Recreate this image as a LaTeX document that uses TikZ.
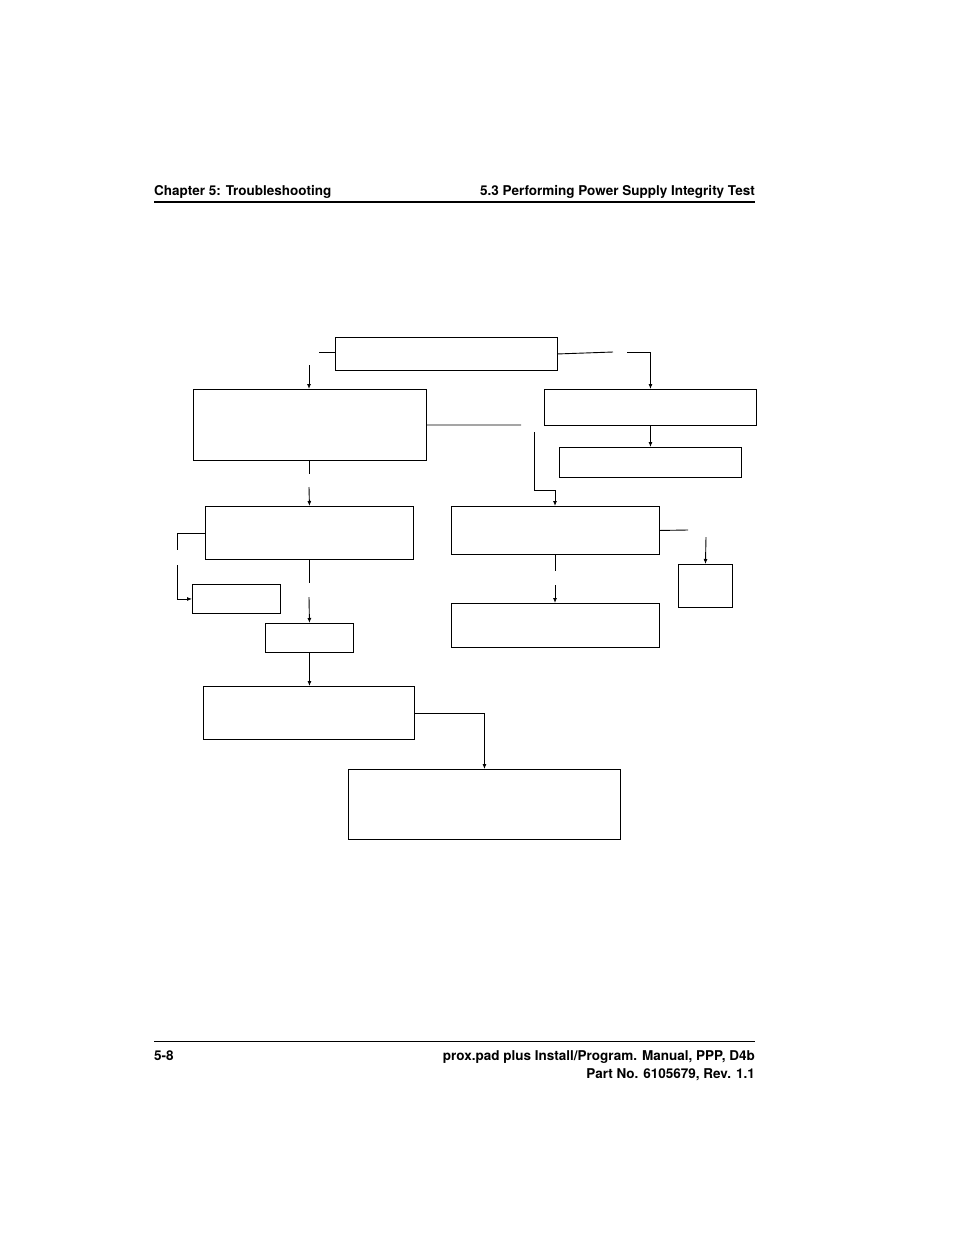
\documentclass[tikz,border=0pt]{standalone}
\usepackage{fontspec}
\setmainfont{TeX Gyre Heros}
\usetikzlibrary{calc,arrows.meta}
\tikzset{
  box/.style={rectangle,draw,line width=0.9pt,anchor=north west,inner sep=0pt},
  link/.style={line width=0.9pt},
  arr/.style={line width=0.9pt,-{Latex[length=5pt,width=4pt]}},
  hdr/.style={font=\fontsize{13.5}{16}\selectfont\bfseries,inner sep=0pt}
}
\newcommand{\flowbox}[5]{\node[box,minimum width=#4pt,minimum height=#5pt] (#1) at (#2,#3) {};}

\begin{document}
\begin{tikzpicture}[x=1pt,y=-1pt]
            \useasboundingbox (0,0) rectangle (954,1235);

            % header and footer
            \node[hdr,anchor=base west] (chap) at (154,195) {Chapter 5: Troubleshooting};
            \node[hdr,anchor=base east] (sect) at (755,195) {5.3 Performing Power Supply Integrity Test};
            \draw[line width=1.4pt] (154,202) -- (755,202);
            \draw[line width=0.8pt] (154,1041) -- (755,1041);
            \node[hdr,anchor=base west] (page) at (154,1060) {5-8};
            \node[hdr,anchor=base east] (man) at (755,1060) {prox.pad plus Install/Program. Manual, PPP, D4b};
            \node[hdr,anchor=base east] (part) at (755,1078) {Part No. 6105679, Rev. 1.1};

            % boxes
            \flowbox{start}{335}{337}{222}{33}
            \flowbox{lefta}{193}{389}{233}{71}
            \flowbox{righta}{544}{389}{212}{36}
            \flowbox{rightb}{559}{447}{182}{30}
            \flowbox{leftb}{205}{506}{208}{53}
            \flowbox{midb}{451}{506}{208}{48}
            \flowbox{tiny}{678}{564}{54}{43}
            \flowbox{sidea}{192}{584}{88}{29}
            \flowbox{sideb}{265}{623}{88}{29}
            \flowbox{midc}{451}{603}{208}{44}
            \flowbox{leftc}{203}{686}{211}{53}
            \flowbox{last}{348}{769}{272}{70}

            % connectors
            \coordinate (c1) at (319,352);
            \draw[link] (start.west |- c1) -- (c1);
            \draw[arr] (309,365) -- (309,389);
            \draw[link] (start.east) -- (613,352);
            \draw[arr] (627,352) -| (righta.north);
            \draw[arr] (righta.south) -- (rightb.north);
            \draw[link] (lefta.east) -- (521,425);
            \draw[arr] (534,432) |- (555,490) -- (555,506);
            \draw[link] (309,460) -- (309,474);
            \draw[arr] (309,487) -- (leftb.north);
            \draw[link] (leftb.west) -| (177,550);
            \draw[arr] (177,565) |- (sidea.west);
            \draw[link] (309,559) -- (309,583);
            \draw[arr] (309,597) -- (sideb.north);
            \draw[arr] (sideb.south) -- (leftc.north -| sideb.south);
            \draw[arr] (leftc.east) -| (last.north);
            \draw[link] (midb.east) -- (688,530);
            \draw[arr] (706,537) -- (tiny.north);
            \draw[link] (555,554) -- (555,571);
            \draw[arr] (555,585) -- (555,603);
        \end{tikzpicture}
\end{document}
